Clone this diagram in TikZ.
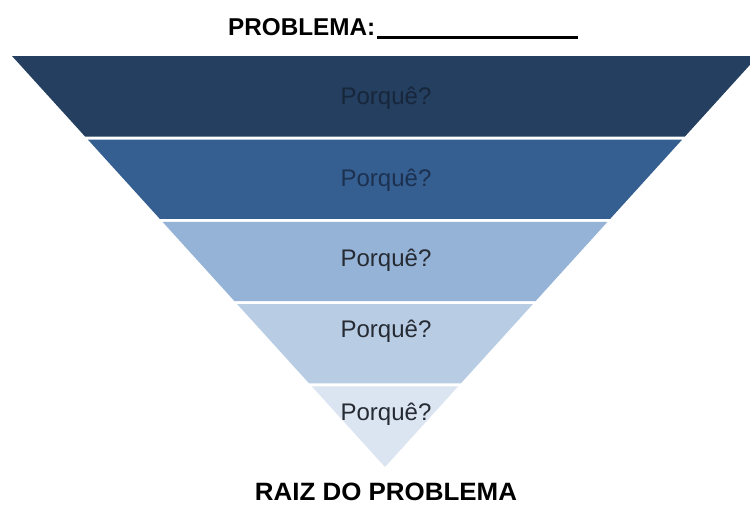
\documentclass[tikz,border=0pt]{standalone}
\usepackage{fontspec}
\setmainfont{Liberation Sans}
\usetikzlibrary{calc}
\definecolor{bandA}{HTML}{243F60}
\definecolor{bandB}{HTML}{365F91}
\definecolor{bandC}{HTML}{95B3D7}
\definecolor{bandD}{HTML}{B8CCE4}
\definecolor{bandE}{HTML}{DBE5F1}
\definecolor{txtA}{HTML}{17263A}
\definecolor{txtB}{HTML}{1C3050}
\definecolor{txtL}{HTML}{262B33}
\begin{document}
\begin{tikzpicture}[x=1pt,y=-1pt,
  qlabel/.style={font=\fontsize{24}{28}\selectfont, inner sep=0pt, anchor=base},
  heading/.style={inner sep=0pt}]
\useasboundingbox (0,0) rectangle (750,506);
\fill[white] (0,0) rectangle (750,506);
\coordinate (L) at (12,56);
\coordinate (R) at (758,56);
\coordinate (A) at (385,467);
\begin{scope}
\clip (0,0) rectangle (750,506);
\foreach \a/\b/\c in {0/0.1964/bandA, 0.2036/0.3964/bandB, 0.4036/0.5964/bandC, 0.6036/0.7964/bandD}
  \fill[\c] ($(L)!\a!(A)$) -- ($(R)!\a!(A)$) -- ($(R)!\b!(A)$) -- ($(L)!\b!(A)$) -- cycle;
\fill[bandE] ($(L)!0.8036!(A)$) -- ($(R)!0.8036!(A)$) -- (A) -- cycle;
\end{scope}
\node[qlabel, text=txtA] (q1) at (386,104) {Porquê?};
\node[qlabel, text=txtB] (q2) at (386,186) {Porquê?};
\node[qlabel, text=txtL] (q3) at (386,266) {Porquê?};
\node[qlabel, text=txtL] (q4) at (386,337) {Porquê?};
\node[qlabel, text=txtL] (q5) at (386,420) {Porquê?};
\node[heading, anchor=base west] (title) at (228,35) {\resizebox{147pt}{17pt}{\bfseries PROBLEMA:}};
\coordinate (u1) at (377,37.5);
\coordinate (u2) at (578,37.5);
\draw[line width=3pt] (u1) -- (u2);
\node[heading, anchor=base] (root) at (386,500) {\resizebox{262pt}{17.5pt}{\bfseries RAIZ DO PROBLEMA}};
\end{tikzpicture}
\end{document}
